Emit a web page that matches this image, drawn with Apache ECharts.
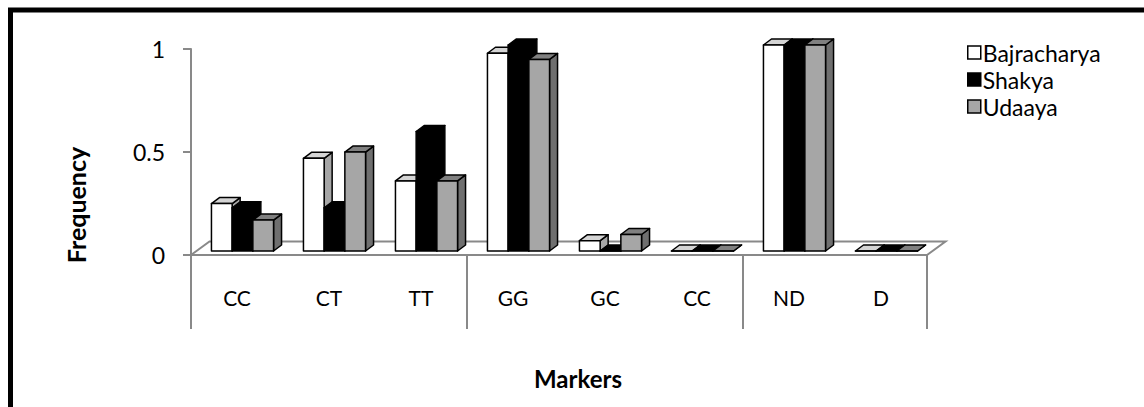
<!DOCTYPE html>
<html>
<head>
<meta charset="utf-8">
<script src="https://cdn.jsdelivr.net/npm/echarts@6/dist/echarts.min.js"></script>
<style>
  html, body { margin: 0; padding: 0; background: #fff; }
  #chart { width: 1144px; height: 407px; }
</style>
</head>
<body>
<div id="chart"></div>
<script>
// Genotype frequencies per marker, three groups
const categories = ['CC', 'CT', 'TT', 'GG', 'GC', 'CC', 'ND', 'D'];
const groupStarts = [0, 3, 6, 8];           // category indices where a marker block begins / ends
const bajracharya = [0.23, 0.45, 0.34, 0.96, 0.05, 0, 1, 0];
const shakya      = [0.21, 0.21, 0.58, 1.00, 0.00, 0, 1, 0];
const udaaya      = [0.15, 0.48, 0.34, 0.93, 0.08, 0, 1, 0];
const seriesNames = ['Bajracharya', 'Shakya', 'Udaaya'];
const yTicks = { min: 0, max: 1, interval: 0.5 };

// pseudo-3D geometry (pixels)
const FLOOR_DX = 18.5, FLOOR_DY = -13.5;
const FRONT_DX = 5.5, FRONT_DY = -4;
const DEPTH_DX = 8, DEPTH_DY = -6;
const AXIS_GRAY = '#898989';

const faces = [
  { front: '#ffffff', top: '#d4d4d4', side: '#a6a6a6' },
  { front: '#000000', top: '#000000', side: '#000000' },
  { front: '#a6a6a6', top: '#808080', side: '#6f6f6f' }
];

function barRenderer(si) {
  return function (params, api) {
    const cat = api.value(0), v = api.value(1);
    const base = api.coord([cat, 0]);
    const top = api.coord([cat, v]);
    const band = api.size([1, 0])[0];
    const bw = band * 0.225;
    const x0 = base[0] - 1.5 * bw + si * bw + FRONT_DX;
    const yb = base[1] + FRONT_DY;
    const yt = top[1] + FRONT_DY;
    const f = faces[si];
    const stroke = { stroke: '#000', lineWidth: 1.5, lineJoin: 'round' };
    return {
      type: 'group',
      children: [
        { type: 'polygon', shape: { points: [[x0 + bw, yt], [x0 + bw + DEPTH_DX, yt + DEPTH_DY], [x0 + bw + DEPTH_DX, yb + DEPTH_DY], [x0 + bw, yb]] },
          style: Object.assign({ fill: f.side }, stroke) },
        { type: 'polygon', shape: { points: [[x0, yt], [x0 + DEPTH_DX, yt + DEPTH_DY], [x0 + bw + DEPTH_DX, yt + DEPTH_DY], [x0 + bw, yt]] },
          style: Object.assign({ fill: f.top }, stroke) },
        { type: 'rect', shape: { x: x0, y: yt, width: bw, height: yb - yt },
          style: Object.assign({ fill: f.front }, stroke) }
      ]
    };
  };
}

// floor parallelogram plus the marker-block separators below it
function floorRenderer(params, api) {
  const band = api.size([1, 0])[0];
  const first = api.coord([0, 0]);
  const last = api.coord([categories.length - 1, 0]);
  const xl = first[0] - band / 2, xr = last[0] + band / 2, y0 = first[1];
  const children = [
    { type: 'polygon',
      shape: { points: [[xl, y0], [xl + FLOOR_DX, y0 + FLOOR_DY], [xr + FLOOR_DX, y0 + FLOOR_DY], [xr, y0]] },
      style: { fill: '#fff', stroke: AXIS_GRAY, lineWidth: 2 } }
  ];
  groupStarts.forEach(function (idx) {
    const x = xl + idx * band;
    children.push({ type: 'line', shape: { x1: x, y1: y0, x2: x, y2: y0 + 74 },
      style: { stroke: AXIS_GRAY, lineWidth: 2 } });
  });
  return { type: 'group', children: children };
}

const chart = echarts.init(document.getElementById('chart'), null, { renderer: 'svg' });

const seriesData = [bajracharya, shakya, udaaya];

chart.setOption({
  animation: false,
  backgroundColor: '#fff',
  textStyle: { fontFamily: 'Lato' },
  grid: { left: 191, right: 217, top: 49, bottom: 152 },
  legend: {
    orient: 'vertical',
    left: 962,
    top: 36,
    itemWidth: 13,
    itemHeight: 13,
    itemGap: 4,
    selectedMode: false,
    textStyle: { fontFamily: 'Lato', fontSize: 23, lineHeight: 22, color: '#000', padding: [0, 0, 0, -3] },
    data: seriesNames.map(function (n, i) {
      return { name: n, icon: 'rect',
        itemStyle: { color: faces[i].front, borderColor: '#000', borderWidth: 1.5 } };
    })
  },
  xAxis: {
    type: 'category',
    data: categories,
    boundaryGap: true,
    axisLine: { show: false },
    axisTick: { show: false },
    axisLabel: { margin: 32, fontFamily: 'Lato', fontSize: 21, color: '#000' }
  },
  yAxis: {
    type: 'value',
    min: yTicks.min,
    max: yTicks.max,
    interval: yTicks.interval,
    axisLine: { show: true, lineStyle: { color: AXIS_GRAY, width: 2 } },
    axisTick: { show: true, length: 8, lineStyle: { color: AXIS_GRAY, width: 2 } },
    splitLine: { show: false },
    axisLabel: { margin: 26, fontFamily: 'Lato', fontSize: 23, color: '#000',
      formatter: function (v) { return String(v); } }
  },
  graphic: [
    { type: 'line', shape: { x1: 10.5, y1: 8, x2: 10.5, y2: 407 }, style: { stroke: '#000', lineWidth: 5 } },
    { type: 'line', shape: { x1: 8, y1: 10, x2: 1144, y2: 10 }, style: { stroke: '#000', lineWidth: 5 } },
    { type: 'text', x: 76, y: 205, rotation: Math.PI / 2,
      style: { text: 'Frequency', fontFamily: 'Lato', fontWeight: 'bold', fontSize: 25, fill: '#000',
        align: 'center', verticalAlign: 'middle' } },
    { type: 'text', x: 578, y: 378,
      style: { text: 'Markers', fontFamily: 'Lato', fontWeight: 'bold', fontSize: 24, fill: '#000',
        align: 'center', verticalAlign: 'middle' } }
  ],
  series: [
    { type: 'custom', name: 'floor', renderItem: floorRenderer, data: [[0, 0]], silent: true, z: 1 }
  ].concat(seriesData.map(function (vals, si) {
    return {
      type: 'custom',
      name: seriesNames[si],
      renderItem: barRenderer(si),
      encode: { x: 0, y: 1 },
      data: vals.map(function (v, i) { return [i, v]; }),
      z: 2 + si
    };
  }))
});
</script>
</body>
</html>
